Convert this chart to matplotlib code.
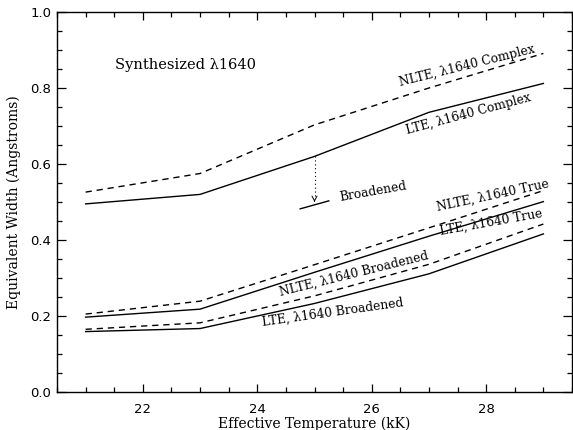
import matplotlib
matplotlib.use("Agg")
import matplotlib.pyplot as plt
from matplotlib.ticker import MultipleLocator

# effective temperature grid (kK)
teff = [21, 23, 25, 27, 29]

# equivalent widths of the 1640 line (Angstroms)
lte_complex = [0.495, 0.520, 0.620, 0.736, 0.812]
nlte_complex = [0.526, 0.575, 0.703, 0.800, 0.891]
nlte_true = [0.205, 0.239, 0.335, 0.432, 0.530]
lte_true = [0.197, 0.218, 0.315, 0.410, 0.501]
nlte_broad = [0.165, 0.182, 0.253, 0.336, 0.442]
lte_broad = [0.159, 0.167, 0.233, 0.311, 0.416]

# broadened complex value at 25 kK
broad_t = [24.75, 25.25]
broad_w = [0.482, 0.503]
arrow_t = 25
arrow_from = 0.620
arrow_to = 0.500

plt.rcParams['lines.scale_dashes'] = False
serif = ['DejaVu Serif']
sans = ['DejaVu Sans']

fig = plt.figure(figsize=(5.73, 4.30), dpi=100)
ax = fig.add_axes([57/573, 38/430, 515/573, 380/430])

dash = (4.5, 3.5)
lw = 1.0
ax.plot(teff, lte_complex, color='black', lw=lw)
ax.plot(teff, nlte_complex, color='black', lw=lw, dashes=dash)
ax.plot(teff, nlte_true, color='black', lw=lw, dashes=dash)
ax.plot(teff, lte_true, color='black', lw=lw)
ax.plot(teff, nlte_broad, color='black', lw=lw, dashes=dash)
ax.plot(teff, lte_broad, color='black', lw=lw)

ax.plot(broad_t, broad_w, color='black', lw=lw)
ax.plot([arrow_t, arrow_t], [arrow_from, arrow_to + 0.01], color='black', lw=0.8,
        dashes=(0.8, 2.0))
ax.annotate('', xy=(arrow_t, arrow_to), xytext=(arrow_t, arrow_to + 0.012),
            arrowprops=dict(arrowstyle='->,head_length=0.35,head_width=0.18',
                            color='black', lw=0.7))

lab = dict(color='black', fontsize=8.8, family=serif, ha='center', va='center',
           rotation_mode='anchor')
ax.text(22.74, 0.861, 'Synthesized \u03bb1640', color='black', fontsize=10.5,
        family=serif, ha='center', va='center')
ax.text(27.66, 0.858, 'NLTE, \u03bb1640 Complex', rotation=14, **lab)
ax.text(27.69, 0.731, 'LTE, \u03bb1640 Complex', rotation=15, **lab)
ax.text(26.03, 0.528, 'Broadened', rotation=10, **lab)
ax.text(28.11, 0.517, 'NLTE, \u03bb1640 True', rotation=12, **lab)
ax.text(28.08, 0.446, 'LTE, \u03bb1640 True', rotation=10, **lab)
ax.text(25.68, 0.311, 'NLTE, \u03bb1640 Broadened', rotation=14, **lab)
ax.text(25.32, 0.209, 'LTE, \u03bb1640 Broadened', rotation=8, **lab)

ax.set_xlim(20.5, 29.5)
ax.set_ylim(0.0, 1.0)
ax.xaxis.set_minor_locator(MultipleLocator(0.5))
ax.yaxis.set_minor_locator(MultipleLocator(0.05))
ax.set_xticks([22, 24, 26, 28])
ax.set_xticklabels(['22', '24', '26', '28'], family=sans, fontsize=9.5)
ax.set_yticks([0.0, 0.2, 0.4, 0.6, 0.8, 1.0])
ax.set_yticklabels(['0.0', '0.2', '0.4', '0.6', '0.8', '1.0'], family=sans, fontsize=9.5)
ax.tick_params(which='both', direction='in', top=True, right=True, width=0.9)
ax.tick_params(axis='x', which='major', length=6, pad=8)
ax.tick_params(axis='x', which='minor', length=3.5)
ax.tick_params(axis='y', which='major', length=6.5, pad=4)
ax.tick_params(axis='y', which='minor', length=3.5)
for s in ax.spines.values():
    s.set_linewidth(1.0)

ax.set_xlabel('Effective Temperature (kK)', family=serif, fontsize=10, labelpad=0)
ax.set_ylabel('Equivalent Width (Angstroms)', family=serif, fontsize=10, labelpad=7)

fig.savefig('out.png', dpi=100)
